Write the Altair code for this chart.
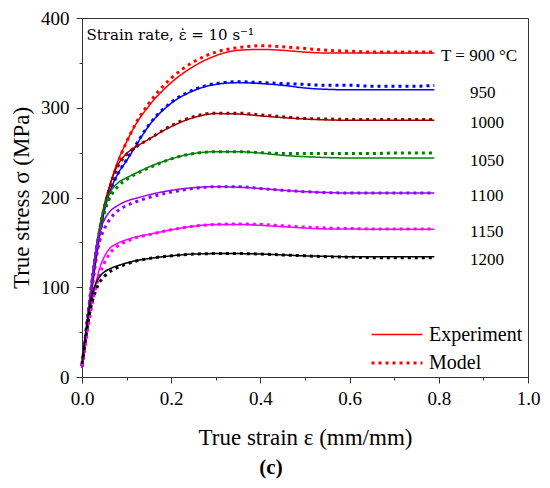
import altair as alt
import pandas as pd

# strain grid (mm/mm)
STRAIN = [0, 0.005, 0.01, 0.02, 0.03, 0.04, 0.05, 0.06, 0.08, 0.1, 0.12, 0.15, 0.2,
          0.25, 0.3, 0.35, 0.4, 0.45, 0.5, 0.55, 0.6, 0.65, 0.7, 0.75, 0.79]

TEMPS = ["900", "950", "1000", "1050", "1100", "1150", "1200"]
COLORS = ["#ff0000", "#0000ff", "#990000", "#008000", "#9900ff", "#ff00ff", "#000000"]

# Experiment (MPa)
EXP_900 = [10, 28, 48, 88, 125, 158, 186, 208, 240, 262, 281, 302, 328, 346, 358, 364, 365, 364, 362, 361, 361, 361, 361, 361, 361]
EXP_950 = [10, 30, 50, 90, 128, 160, 185, 203, 226, 241, 257, 280, 305, 319, 326, 328, 327, 325, 322, 320.5, 320, 320, 320, 320, 320]
EXP_1000 = [10, 30, 52, 95, 135, 168, 192, 210, 236, 249, 256, 265, 279, 289, 293.5, 293, 291, 289, 287.5, 286.5, 286, 286, 286, 286, 286]
EXP_1050 = [10, 32, 55, 98, 138, 168, 190, 203, 216, 222, 227, 234, 243, 249, 251, 251, 249.5, 247, 245.5, 244.5, 244, 244, 244, 244, 244]
EXP_1100 = [10, 32, 55, 100, 138, 162, 175, 183, 191, 196, 199, 203, 208, 211, 212, 211.5, 210, 208, 206.5, 205.5, 205, 205, 205, 205, 205]
EXP_1150 = [12, 28, 46, 78, 102, 122, 134, 142, 149, 153, 156, 159, 164, 168, 170, 170, 169, 167.5, 166, 165, 165, 164.5, 164.5, 164.5, 164.5]
EXP_1200 = [15, 36, 55, 86, 103, 112, 117, 120, 124, 127, 129.5, 132, 135, 137, 137.5, 137.5, 137, 136, 135, 134.5, 134, 134, 134, 134, 134]

# Model (MPa)
MOD_900 = [12, 30, 50, 90, 126, 158, 185, 206, 238, 262, 282, 305, 333, 351, 362, 367, 369, 368, 366, 364, 363, 362, 362, 362, 362]
MOD_950 = [12, 32, 52, 92, 128, 160, 184, 202, 226, 242, 258, 281, 306, 320, 327, 329, 328, 327, 326, 325, 325, 324, 324, 324, 325]
MOD_1000 = [12, 32, 54, 96, 134, 165, 189, 207, 234, 248, 256, 265, 280, 290, 294, 294, 292, 290, 288, 287.5, 287, 287, 287, 287, 287]
MOD_1050 = [12, 33, 56, 97, 134, 162, 183, 197, 212, 220, 226, 233, 243, 249, 251, 251, 250, 249, 249, 249, 249, 249, 249.5, 249.5, 249.5]
MOD_1100 = [12, 32, 54, 96, 130, 152, 165, 174, 185, 191, 195, 200, 206, 210, 212, 212, 210, 208, 206.5, 205.5, 205, 205, 205, 205, 205]
MOD_1150 = [12, 28, 44, 74, 98, 115, 127, 136, 146, 151, 155, 158.5, 164, 168, 170, 170.5, 170, 168.5, 167, 166, 165.5, 165, 165, 165, 165]
MOD_1200 = [15, 32, 50, 78, 95, 106, 112, 116.5, 122, 126, 129, 132, 135, 137, 137.5, 137.5, 137, 136, 135, 134, 133.5, 133, 133, 133, 133]

EXP = [EXP_900, EXP_950, EXP_1000, EXP_1050, EXP_1100, EXP_1150, EXP_1200]
MOD = [MOD_900, MOD_950, MOD_1000, MOD_1050, MOD_1100, MOD_1150, MOD_1200]

LABELS = ["T = 900 \u00b0C", "950", "1000", "1050", "1100", "1150", "1200"]
KINDS = ["Experiment", "Model"]

FONT = "Liberation Serif"

rows = []
for t, e, m in zip(TEMPS, EXP, MOD):
    for s, v in zip(STRAIN, e):
        rows.append({"strain": s, "stress": v, "T": t, "kind": "Experiment"})
    for s, v in zip(STRAIN, m):
        rows.append({"strain": s, "stress": v, "T": t, "kind": "Model"})
df = pd.DataFrame(rows)

lab = pd.DataFrame({
    "text": LABELS,
    "strain": [0.805] + [0.87] * (len(LABELS) - 1),
    "stress": [e[-1] for e in EXP],
})

note = pd.DataFrame({"text": ["Strain rate, \u03b5\u0307 = 10 s\u207b\u00b9"], "strain": [0.01], "stress": [381]})

x_vals = [round(i * 0.1, 1) for i in range(11)]
y_vals = list(range(0, 401, 50))

xscale = alt.Scale(domain=[0, 1], nice=False)
yscale = alt.Scale(domain=[0, 400], nice=False)

xaxis = alt.Axis(
    values=x_vals, title="True strain \u03b5 (mm/mm)", grid=False,
    labelExpr="round(datum.value*10) % 2 === 0 ? format(datum.value, '.1f') : ''",
    tickSize={"condition": {"test": "round(datum.value*10) % 2 === 0", "value": 6}, "value": 3},
    labelPadding=6, titleY=60, titleBaseline="middle",
)
yaxis = alt.Axis(
    values=y_vals, title="True stress \u03c3 (MPa)", grid=False,
    labelExpr="datum.value % 100 === 0 ? datum.label : ''",
    tickSize={"condition": {"test": "datum.value % 100 === 0", "value": 6}, "value": 3},
    labelPadding=7, titleX=-61, titleBaseline="middle",
)

leg = alt.Legend(
    orient="none", legendX=288, legendY=306.5, title=None, direction="vertical",
    symbolType="stroke", symbolSize=2600, symbolStrokeColor="#ff0000",
    labelFontSize=20, labelFont=FONT, labelColor="#000000", labelOffset=5, padding=0,
    clipHeight=20, rowPadding=8.4,
)

lines = alt.Chart(df).mark_line(interpolate="monotone").encode(
    x=alt.X("strain:Q", scale=xscale, axis=xaxis),
    y=alt.Y("stress:Q", scale=yscale, axis=yaxis),
    color=alt.Color("T:N", scale=alt.Scale(domain=TEMPS, range=COLORS), legend=None),
    strokeDash=alt.StrokeDash("kind:N", scale=alt.Scale(domain=KINDS, range=[[1, 0], [3, 4]]), legend=leg),
    strokeWidth=alt.StrokeWidth("kind:N", scale=alt.Scale(domain=KINDS, range=[1.5, 3]), legend=leg),
    detail="kind:N",
)

labels = alt.Chart(lab).mark_text(align="left", baseline="middle", dy=3, font=FONT, fontSize=17, color="#000000").encode(
    x=alt.X("strain:Q", scale=xscale),
    y=alt.Y("stress:Q", scale=yscale),
    text="text:N",
)

notes = alt.Chart(note).mark_text(align="left", baseline="middle", font="DejaVu Serif", fontSize=15, color="#000000").encode(
    x=alt.X("strain:Q", scale=xscale),
    y=alt.Y("stress:Q", scale=yscale),
    text="text:N",
)

chart = alt.layer(lines, labels, notes).properties(
    width=446, height=359,
    autosize=alt.AutoSizeParams(type="none"),
    padding={"left": 74, "top": 10, "right": 14, "bottom": 103},
    title=alt.Title("(c)", orient="bottom", font=FONT, fontSize=21, fontWeight="bold",
                    anchor="middle", dx=-34, offset=8, color="#000000"),
).configure_view(stroke="#333333", strokeWidth=1).configure_axis(
    labelFont=FONT, labelFontSize=19, labelColor="#000000",
    titleFont=FONT, titleFontSize=23, titleFontWeight="normal", titleColor="#000000",
    domainColor="#333333", tickColor="#333333", labelFlush=False,
)

chart.save("out.html", embed_options={"renderer": "svg", "actions": False})
